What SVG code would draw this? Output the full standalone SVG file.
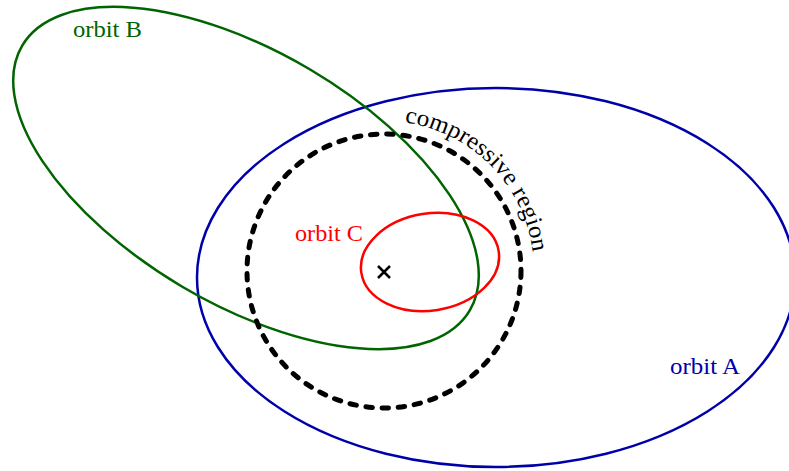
<svg xmlns="http://www.w3.org/2000/svg" width="789" height="471" viewBox="0 0 789 471">
<style>
.orbit{fill:none;stroke-width:2.5}
.lbl{font-family:"Liberation Serif","Times New Roman",serif;font-size:24px}
</style>
<defs>
<path id="arcpath" d="M 309 141.1 A 150 150 0 0 1 513.9 346"/>
</defs>
<rect width="789" height="471" fill="#fff"/>
<g id="orbitA">
<ellipse class="orbit" cx="496" cy="277.5" rx="299" ry="189.5" stroke="#0000aa"/>
<text class="lbl" x="670" y="374" fill="#0000aa" textLength="70" lengthAdjust="spacingAndGlyphs">orbit A</text>
</g>
<g id="orbitB">
<ellipse class="orbit" cx="246" cy="178" rx="260" ry="126" transform="rotate(30.6 246 178)" stroke="#006400"/>
<text class="lbl" x="73" y="37" fill="#006400" textLength="69" lengthAdjust="spacingAndGlyphs">orbit B</text>
</g>
<g id="compressive">
<circle cx="384" cy="271" r="137" fill="none" stroke="#000" stroke-width="5" stroke-dasharray="6.5 9.7" stroke-linecap="round"/>
<text class="lbl" fill="#000"><textPath href="#arcpath" startOffset="99" textLength="196" lengthAdjust="spacingAndGlyphs">compressive region</textPath></text>
</g>
<g id="orbitC">
<ellipse class="orbit" cx="430" cy="262" rx="69.5" ry="48.5" transform="rotate(-9 430 262)" stroke="#ff0000"/>
<text class="lbl" x="295" y="241" fill="#ff0000" textLength="68" lengthAdjust="spacingAndGlyphs">orbit C</text>
</g>
<g id="center">
<path d="M378 266 L390 278 M390 266 L378 278" stroke="#000" stroke-width="2.5" fill="none"/>
</g>
</svg>
